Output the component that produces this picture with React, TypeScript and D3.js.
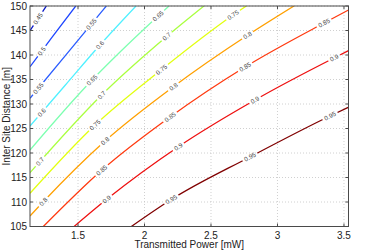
import { useEffect, useRef } from "react";
import * as d3 from "d3";

type Pt = [number, number];

const levels = [0.45, 0.5, 0.55, 0.6, 0.65, 0.7, 0.75, 0.8, 0.85, 0.9, 0.95];

// contour lines: [power mW, distance m]
const c045: Pt[] = [[1.139, 144.96], [1.2, 147.47], [1.262, 150]];
const c050: Pt[] = [[1.139, 137.61], [1.304, 143.59], [1.483, 150]];
const c055: Pt[] = [[1.139, 131.16], [1.425, 140.55], [1.713, 150]];
const c060: Pt[] = [[1.139, 125.51], [1.402, 133.78], [1.665, 142.04], [1.936, 150]];
const c065: Pt[] = [[1.139, 120.61], [1.613, 135.1], [1.816, 140.61], [2.184, 150]];
const c070: Pt[] = [[1.139, 115.98], [1.678, 131.84], [2.162, 143.67], [2.447, 150]];
const c075: Pt[] = [[1.139, 111.78], [1.628, 125.71], [2.124, 136.94], [2.666, 148.16], [2.766, 150]];
const c080: Pt[] = [[1.139, 107.14], [1.237, 110.0], [1.703, 122.45], [2.214, 133.47], [2.778, 144.08], [3.124, 150]];
const c085: Pt[] = [[1.239, 105], [1.68, 116.53], [2.192, 127.35], [2.756, 137.55], [3.35, 146.53], [3.534, 149.18]];
const c090: Pt[] = [[1.47, 105], [1.718, 110.61], [2.252, 121.24], [2.831, 130.82], [3.425, 139.39], [3.534, 140.88]];
const c095: Pt[] = [[1.901, 105], [2.207, 110.61], [2.793, 119.19], [3.395, 127.55], [3.534, 129.33]];

const contours = [c045, c050, c055, c060, c065, c070, c075, c080, c085, c090, c095];

// where the inline labels sit (power value)
const labelsAt: number[][] = [
  [1.199],
  [1.227],
  [1.201, 1.6],
  [1.227, 1.665],
  [1.605, 2.102],
  [1.214, 1.678, 2.167],
  [1.628, 2.128, 2.666],
  [1.239, 1.703, 2.217, 2.775],
  [1.678, 2.192, 2.756, 3.35],
  [1.716, 2.254, 2.831, 3.427],
  [2.202, 2.793, 3.395],
];

const xTicks = [1.5, 2, 2.5, 3, 3.5];
const yTicks = [105, 110, 115, 120, 125, 130, 135, 140, 145, 150];

// jet-like colours as they appear per level
const levelColors = [
  "#0a18c8", "#1e46ff", "#2a5cff", "#4ff0ff", "#7dffb0", "#aaff40",
  "#e2ff10", "#ffa000", "#ff3a10", "#ee1010", "#800000",
];

export default function App() {
  const ref = useRef<SVGSVGElement | null>(null);

  useEffect(() => {
    if (!ref.current) return;
    const svg = d3.select(ref.current);
    svg.selectAll("*").remove();

    const width = 366;
    const height = 252;
    const margin = { top: 6, right: 17.5, bottom: 25.5, left: 30 };
    const font = "'Liberation Sans', Arial, Helvetica, sans-serif";

    const x = d3.scaleLinear().domain([1.139, 3.534]).range([margin.left, width - margin.right]);
    const y = d3.scaleLinear().domain([105, 150]).range([height - margin.bottom, margin.top]);
    const [x0, x1] = x.range();
    const [y0, y1] = [y(150), y(105)];

    const defs = svg.append("defs");
    defs.append("clipPath").attr("id", "plot")
      .append("rect").attr("x", x0).attr("y", y0).attr("width", x1 - x0).attr("height", y1 - y0);
    const mask = defs.append("mask").attr("id", "gaps").attr("maskUnits", "userSpaceOnUse")
      .attr("x", 0).attr("y", 0).attr("width", width).attr("height", height);
    mask.append("rect").attr("width", width).attr("height", height).attr("fill", "white");

    svg.append("rect").attr("x", x0).attr("y", y0).attr("width", x1 - x0).attr("height", y1 - y0).attr("fill", "white");

    // grid
    const grid = svg.append("g").attr("stroke", "#c4c4c4").attr("stroke-width", 0.8).attr("stroke-dasharray", "1,2");
    xTicks.forEach((t) => {
      grid.append("line").attr("x1", x(t)).attr("x2", x(t)).attr("y1", y0).attr("y2", y1);
    });
    yTicks.forEach((t) => {
      grid.append("line").attr("x1", x0).attr("x2", x1).attr("y1", y(t)).attr("y2", y(t));
    });

    const line = d3.line<Pt>().x((d) => x(d[0])).y((d) => y(d[1])).curve(d3.curveMonotoneX);

    const plot = svg.append("g").attr("clip-path", "url(#plot)");
    const lines = plot.append("g").attr("mask", "url(#gaps)").attr("fill", "none");
    const texts = plot.append("g");

    contours.forEach((pts, i) => {
      const path = lines.append("path").attr("d", line(pts) || "")
        .attr("stroke", levelColors[i]).attr("stroke-width", 1.3);
      const node = path.node() as SVGPathElement;
      const total = node.getTotalLength();
      labelsAt[i].forEach((lx) => {
        const px = x(lx);
        let lo = 0;
        let hi = total;
        for (let k = 0; k < 30; k++) {
          const mid = (lo + hi) / 2;
          if (node.getPointAtLength(mid).x < px) lo = mid;
          else hi = mid;
        }
        const p = node.getPointAtLength(lo);
        const a = node.getPointAtLength(Math.max(0, lo - 3));
        const b = node.getPointAtLength(Math.min(total, lo + 3));
        const ang = (Math.atan2(b.y - a.y, b.x - a.x) * 180) / Math.PI;
        const label = String(levels[i]);
        const w = label.length * 3.4 + 3;
        mask.append("rect").attr("x", -w / 2).attr("y", -3).attr("width", w).attr("height", 6)
          .attr("fill", "black").attr("transform", `translate(${p.x},${p.y}) rotate(${ang})`);
        texts.append("text").text(label)
          .attr("transform", `translate(${p.x},${p.y}) rotate(${ang})`)
          .attr("text-anchor", "middle").attr("dy", "0.35em")
          .attr("font-family", font).attr("font-size", 6.3).attr("fill", "#444");
      });
    });

    // box and ticks
    const axis = svg.append("g").attr("stroke", "#4a4a4a").attr("stroke-width", 1).attr("fill", "none");
    axis.append("rect").attr("x", x0).attr("y", y0).attr("width", x1 - x0).attr("height", y1 - y0);
    xTicks.forEach((t) => {
      axis.append("line").attr("x1", x(t)).attr("x2", x(t)).attr("y1", y1).attr("y2", y1 - 3);
      axis.append("line").attr("x1", x(t)).attr("x2", x(t)).attr("y1", y0).attr("y2", y0 + 3);
    });
    yTicks.forEach((t) => {
      axis.append("line").attr("x1", x0).attr("x2", x0 + 3).attr("y1", y(t)).attr("y2", y(t));
      axis.append("line").attr("x1", x1).attr("x2", x1 - 3).attr("y1", y(t)).attr("y2", y(t));
    });

    const lab = svg.append("g").attr("font-family", font).attr("font-size", 10).attr("fill", "#222");
    xTicks.forEach((t) => {
      lab.append("text").attr("x", x(t)).attr("y", y1 + 12).attr("text-anchor", "middle").text(String(t));
    });
    yTicks.forEach((t) => {
      lab.append("text").attr("x", x0 - 3).attr("y", y(t)).attr("dy", "0.35em").attr("text-anchor", "end").text(String(t));
    });
    lab.append("text").attr("x", (x0 + x1) / 2).attr("y", y1 + 21.5).attr("text-anchor", "middle")
      .text("Transmitted Power [mW]");
    lab.append("text").attr("transform", `translate(9.5,${(y0 + y1) / 2}) rotate(-90)`)
      .attr("text-anchor", "middle").text("Inter Site Distance [m]");
  }, []);

  return (
    <svg ref={ref} width={366} height={252}
      style={{ position: "absolute", left: 0, top: 0, display: "block", background: "white" }} />
  );
}
